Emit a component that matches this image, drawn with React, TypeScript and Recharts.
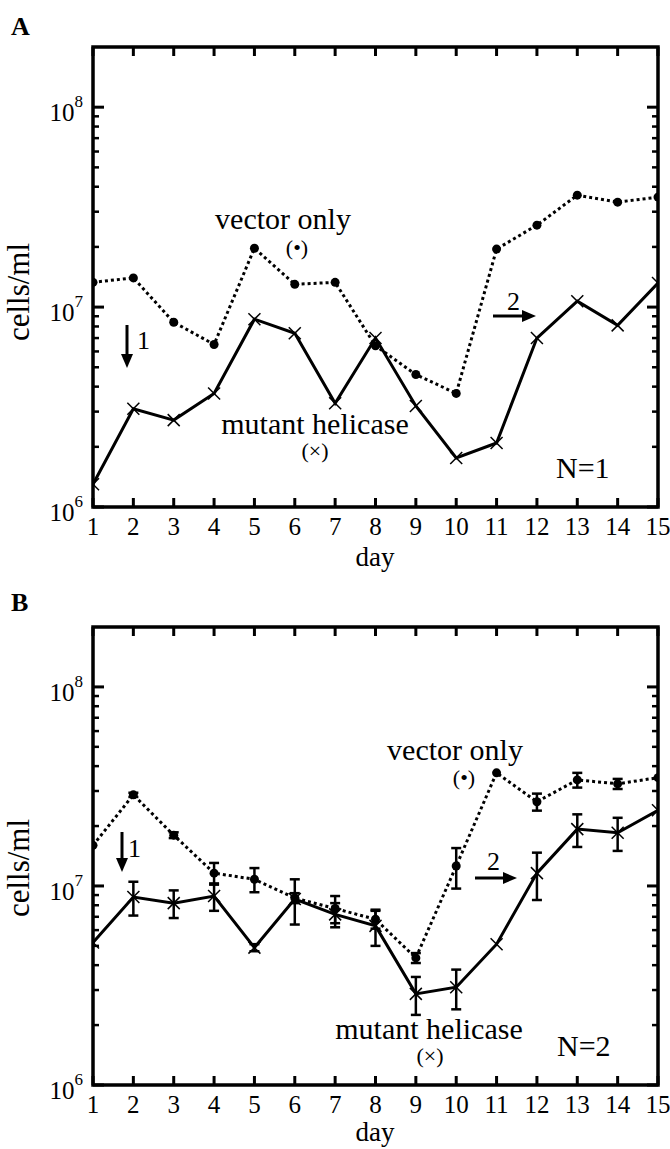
import React from 'react';
import { LineChart, Line, XAxis, YAxis, ErrorBar, ReferenceArea } from 'recharts';

const days = [1, 2, 3, 4, 5, 6, 7, 8, 9, 10, 11, 12, 13, 14, 15];

// Panel A (N=1)
const vectorA = [1.33e7, 1.4e7, 8.4e6, 6.5e6, 1.97e7, 1.3e7, 1.33e7, 6.4e6, 4.6e6, 3.7e6, 1.95e7, 2.57e7, 3.63e7, 3.35e7, 3.55e7];
const mutantA = [1.3e6, 3.1e6, 2.72e6, 3.7e6, 8.7e6, 7.4e6, 3.3e6, 7.0e6, 3.2e6, 1.76e6, 2.09e6, 7.0e6, 1.07e7, 8.1e6, 1.32e7];

// Panel B (N=2)
const vectorB = [1.6e7, 2.87e7, 1.8e7, 1.16e7, 1.08e7, 8.7e6, 7.7e6, 6.8e6, 4.35e6, 1.26e7, 3.7e7, 2.65e7, 3.41e7, 3.26e7, 3.5e7];
const vectorBErr = [null, 0.7e6, 0.6e6, 1.45e6, 1.5e6, 0.5e6, 1.2e6, 0.7e6, 0.25e6, 2.9e6, null, 2.6e6, 2.9e6, 1.9e6, null];
const mutantB = [5.2e6, 8.8e6, 8.2e6, 8.9e6, 4.9e6, 8.6e6, 7.2e6, 6.3e6, 2.87e6, 3.1e6, 5.1e6, 1.16e7, 1.93e7, 1.85e7, 2.4e7];
const mutantBErr = [null, 1.7e6, 1.3e6, 1.4e6, 0.2e6, 2.2e6, 1.0e6, 1.3e6, 0.62e6, 0.7e6, null, 3.1e6, 3.6e6, 3.5e6, null];

const xTicks = days;
const yMajorTicks = [1e6, 1e7, 1e8];
const yMinorTicks = [2e6, 3e6, 4e6, 5e6, 6e6, 7e6, 8e6, 9e6, 2e7, 3e7, 4e7, 5e7, 6e7, 7e7, 8e7, 9e7];
const yTicks = [...yMajorTicks, ...yMinorTicks].sort((a, b) => a - b);
const yDomain = [1e6, 2e8];

const dataA = days.map((d, i) => ({ day: d, vector: vectorA[i], mutant: mutantA[i] }));
const dataB = days.map((d, i) => ({
  day: d,
  vector: vectorB[i],
  vectorErr: vectorBErr[i],
  mutant: mutantB[i],
  mutantErr: mutantBErr[i],
}));

const FONT = "'Liberation Serif','Times New Roman',Times,serif";
const W = 670;
const PLOT_L = 93;
const PLOT_R = 658;
const PLOT_TOP = 47;
const Y_AXIS_W = 60;
const X_AXIS_H = 30;

const makeXTick = (plotTop: number) => (props: any) => {
  const { x, y, payload } = props;
  return (
    <g>
      <line x1={x} x2={x} y1={y} y2={y - 9} stroke="#000" strokeWidth={3} />
      <line x1={x} x2={x} y1={plotTop} y2={plotTop + 9} stroke="#000" strokeWidth={3} />
      <text x={x} y={y + 28} textAnchor="middle" fontFamily={FONT} fontSize={25} fill="#000">
        {payload.value}
      </text>
    </g>
  );
};

const YTick = (props: any) => {
  const { x, y, payload } = props;
  const v = payload.value;
  const exp = Math.round(Math.log10(v));
  const major = Math.abs(Math.pow(10, exp) - v) < 1;
  const len = major ? 11 : 6;
  const sw = major ? 3 : 2.5;
  return (
    <g>
      <line x1={x} x2={x + len} y1={y} y2={y} stroke="#000" strokeWidth={sw} />
      <line x1={PLOT_R} x2={PLOT_R - len} y1={y} y2={y} stroke="#000" strokeWidth={sw} />
      {major && (
        <text x={x - 10} y={y + 14} textAnchor="end" fontFamily={FONT} fontSize={25} fill="#000">
          <tspan>10</tspan>
          <tspan dy={-14} fontSize={17}>{exp}</tspan>
        </text>
      )}
    </g>
  );
};

const vectorDot = (props: any) => {
  const { cx, cy, index } = props;
  if (cx == null || cy == null) return <g key={`vd-${index}`} />;
  return <circle key={`vd-${index}`} cx={cx} cy={cy} r={4.5} fill="#000" />;
};

const mutantDot = (props: any) => {
  const { cx, cy, index } = props;
  if (cx == null || cy == null) return <g key={`md-${index}`} />;
  const s = 6;
  return (
    <g key={`md-${index}`}>
      <line x1={cx - s} y1={cy - s} x2={cx + s} y2={cy + s} stroke="#000" strokeWidth={1.5} />
      <line x1={cx - s} y1={cy + s} x2={cx + s} y2={cy - s} stroke="#000" strokeWidth={1.5} />
    </g>
  );
};

const Panel = ({ data, height, plotBottom, withErr }: { data: any[]; height: number; plotBottom: number; withErr: boolean }) => (
  <LineChart
    width={W}
    height={height}
    data={data}
    margin={{ top: PLOT_TOP, right: W - PLOT_R, left: PLOT_L - Y_AXIS_W, bottom: height - plotBottom - X_AXIS_H }}
  >
    <XAxis
      dataKey="day"
      type="number"
      domain={[1, 15]}
      ticks={xTicks}
      interval={0}
      allowDataOverflow
      axisLine={false}
      tickLine={false}
      tickSize={0}
      tickMargin={0}
      height={X_AXIS_H}
      tick={makeXTick(PLOT_TOP)}
    />
    <YAxis
      type="number"
      scale="log"
      domain={yDomain}
      ticks={yTicks}
      interval={0}
      allowDataOverflow
      axisLine={false}
      tickLine={false}
      tickSize={0}
      tickMargin={0}
      width={Y_AXIS_W}
      tick={YTick}
    />
    <ReferenceArea x1={1} x2={15} y1={1e6} y2={2e8} fill="none" stroke="#000" strokeWidth={3.5} ifOverflow="visible" />
    <Line
      dataKey="vector"
      stroke="#000"
      strokeWidth={3}
      strokeDasharray="3 3"
      dot={vectorDot}
      activeDot={false}
      isAnimationActive={false}
    >
      {withErr && <ErrorBar dataKey="vectorErr" width={5} strokeWidth={2.5} stroke="#000" direction="y" />}
    </Line>
    <Line
      dataKey="mutant"
      stroke="#000"
      strokeWidth={3}
      dot={mutantDot}
      activeDot={false}
      isAnimationActive={false}
    >
      {withErr && <ErrorBar dataKey="mutantErr" width={5} strokeWidth={2.5} stroke="#000" direction="y" />}
    </Line>
  </LineChart>
);

const T = (p: any) => <text fontFamily={FONT} fill="#000" {...p} />;

const Overlay = () => (
  <svg width={W} height={1149} style={{ position: 'absolute', left: 0, top: 0, pointerEvents: 'none' }}>
    {/* Panel A */}
    <T x={11} y={35} fontSize={26} fontWeight="bold">A</T>
    <T x={0} y={0} fontSize={31} textAnchor="middle" transform="translate(29,292) rotate(-90)">cells/ml</T>
    <T x={375} y={566} fontSize={27} textAnchor="middle">day</T>
    <T x={283} y={229} fontSize={30} textAnchor="middle">vector only</T>
    <T x={297} y={255} fontSize={22} textAnchor="middle">(•)</T>
    <T x={315} y={434} fontSize={30} textAnchor="middle">mutant helicase</T>
    <T x={315} y={458} fontSize={22} textAnchor="middle">(×)</T>
    <T x={556} y={478} fontSize={30}>N=1</T>
    <line x1={127} x2={127} y1={325} y2={356} stroke="#000" strokeWidth={3} />
    <polygon points="121,354 133,354 127,368" fill="#000" />
    <T x={137} y={349} fontSize={26}>1</T>
    <line x1={493} x2={524} y1={316} y2={316} stroke="#000" strokeWidth={3} />
    <polygon points="522,310 522,322 536,316" fill="#000" />
    <T x={507} y={310} fontSize={26}>2</T>

    {/* Panel B */}
    <T x={11} y={611} fontSize={26} fontWeight="bold">B</T>
    <T x={0} y={0} fontSize={31} textAnchor="middle" transform="translate(29,868) rotate(-90)">cells/ml</T>
    <T x={375} y={1141} fontSize={27} textAnchor="middle">day</T>
    <T x={455} y={760} fontSize={30} textAnchor="middle">vector only</T>
    <T x={464} y={785} fontSize={22} textAnchor="middle">(•)</T>
    <T x={429} y={1039} fontSize={30} textAnchor="middle">mutant helicase</T>
    <T x={430} y={1063} fontSize={22} textAnchor="middle">(×)</T>
    <T x={557} y={1056} fontSize={30}>N=2</T>
    <line x1={122} x2={122} y1={832} y2={860} stroke="#000" strokeWidth={3} />
    <polygon points="116,858 128,858 122,872" fill="#000" />
    <T x={128} y={857} fontSize={26}>1</T>
    <line x1={475} x2={505} y1={878} y2={878} stroke="#000" strokeWidth={3} />
    <polygon points="503,872 503,884 517,878" fill="#000" />
    <T x={487} y={870} fontSize={26}>2</T>
  </svg>
);

export default function App() {
  return (
    <div style={{ position: 'absolute', left: 0, top: 0, width: W, height: 1149, background: '#fff' }}>
      <div style={{ position: 'absolute', left: 0, top: 0 }}>
        <Panel data={dataA} height={580} plotBottom={507} withErr={false} />
      </div>
      <div style={{ position: 'absolute', left: 0, top: 580 }}>
        <Panel data={dataB} height={569} plotBottom={505} withErr={true} />
      </div>
      <Overlay />
    </div>
  );
}
